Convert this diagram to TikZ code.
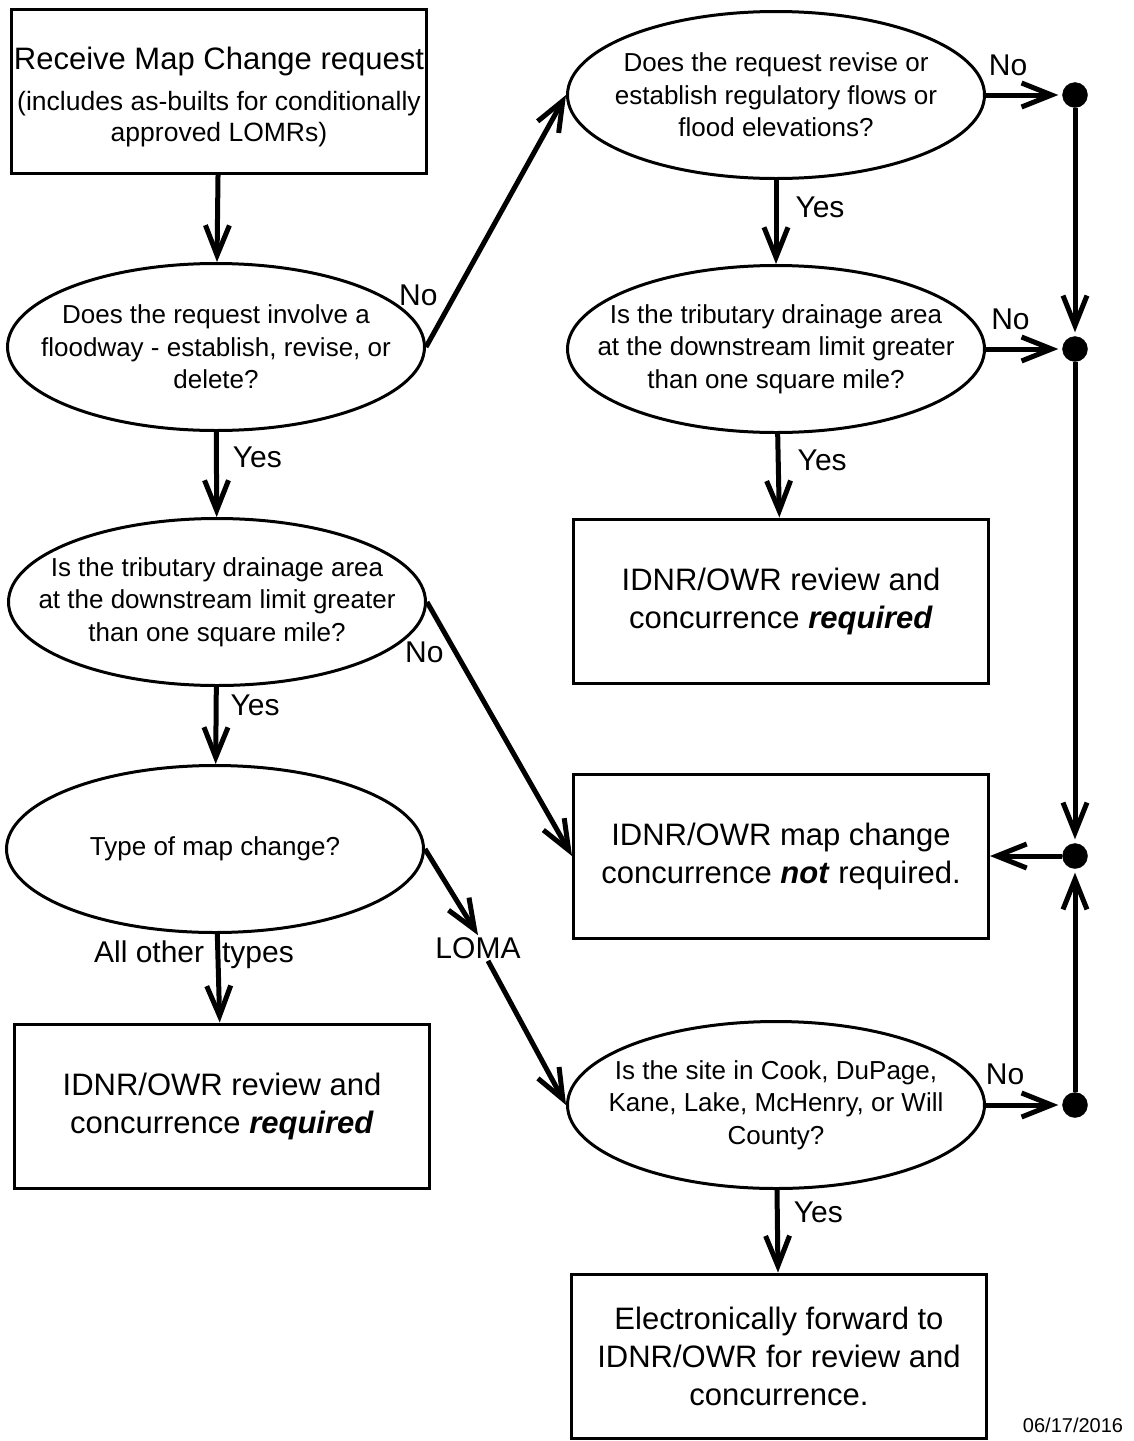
\documentclass[tikz,border=0pt]{standalone}
\usepackage{fontspec}
\setmainfont{Liberation Sans}
\usetikzlibrary{arrows.meta,positioning,shapes.geometric}
\tikzstyle{question}=[ellipse,draw,line width=3pt,minimum width=417pt,minimum height=167pt,inner sep=0pt]
\tikzstyle{qtext}=[align=center,font=\fontsize{26}{32.5}\selectfont]
\tikzstyle{action}=[draw,line width=3pt,minimum width=415pt,minimum height=164pt,align=center,font=\fontsize{31}{38}\selectfont]
\tikzstyle{junc}=[circle,fill=black,draw,inner sep=0pt,minimum size=25pt]
\tikzset{flow/.style={line width=5pt,-{Straight Barb[length=30pt,width=24pt]}}}

\begin{document}
\begin{tikzpicture}[x=1pt,y=-1pt,inner sep=2pt,font=\fontsize{30}{36}\selectfont]
\useasboundingbox (0,0) rectangle (1133,1441);
% left column
\node[action] (recv) at (219,91) {\rule{0pt}{34pt}Receive Map Change request\\[3pt]{\fontsize{26.5}{32}\selectfont (includes as-builts for conditionally}\\[-7pt]{\fontsize{26.5}{32}\selectfont approved LOMRs)}};
\node[question,label={[qtext]center:{Does the request involve a\\floodway - establish, revise, or\\delete?}}] (fway) at (216,347) {};
\node[question,label={[qtext]center:{Is the tributary drainage area\\at the downstream limit greater\\than one square mile?}}] (drainL) at (217,602) {};
\node[question,label={[qtext]center:{Type of map change?}}] (mtype) at (215,849) {};
\node[action] (reqL) at (222,1106) {IDNR/OWR review and\\concurrence \textbf{\textit{required}}};
\node (other) at (194,955) {All other\hspace{18pt}types};
\node (loma) at (478,948) {LOMA};
% right column
\node[question,label={[qtext]center:{Does the request revise or\\establish regulatory flows or\\flood elevations?}}] (flows) at (776,95) {};
\node[question,label={[qtext]center:{Is the tributary drainage area\\at the downstream limit greater\\than one square mile?}}] (drainR) at (776,349) {};
\node[action] (reqR) at (781,601) {IDNR/OWR review and\\concurrence \textbf{\textit{required}}};
\node[action] (notreq) at (781,856) {IDNR/OWR map change\\concurrence \textbf{\textit{not}} required.};
\node[question,label={[qtext]center:{Is the site in Cook, DuPage,\\Kane, Lake, McHenry, or Will\\County?}}] (county) at (776,1105) {};
\node[action] (fwd) at (779,1356) {Electronically forward to\\IDNR/OWR for review and\\concurrence.};
% junctions
\node[junc] (j1) at (1075,95) {};
\node[junc] (j2) at (1075,349) {};
\node[junc] (j3) at (1075,856) {};
\node[junc] (j4) at (1075,1105) {};
\node[font=\fontsize{20}{24}\selectfont] (date) at (1073,1425) {06/17/2016};

\path[flow]
(recv) edge (fway)
(fway) edge node[pos=0.3,right=12pt] {Yes} (drainL)
(drainL) edge node[pos=0.24,right=10pt] {Yes} (mtype)
(mtype) edge (reqL)
(fway.east) edge node[pos=0.1,above left=12pt and -2pt] {No} (flows.west)
(drainL.east) edge node[pos=0.2,left=8pt] {No} (notreq.west)
(mtype.east) edge (loma.north)
([xshift=10pt]loma.south) edge (county.west)
(flows) edge node[pos=0.33,right=15pt] {Yes} (drainR)
(drainR) edge node[pos=0.32,right=15pt] {Yes} (reqR)
(county) edge node[pos=0.27,right=12pt] {Yes} (fwd)
(j3) edge (notreq.east);
\path[flow,shorten >=4pt]
(flows.east) edge node[pos=0.29,above=15pt] {No} (j1)
(drainR.east) edge node[pos=0.32,above=15pt] {No} (j2)
(county.east) edge node[pos=0.25,above=16pt] {No} (j4)
(j1) edge (j2)
(j2) edge (j3)
(j4) edge (j3);
\end{tikzpicture}
\end{document}
